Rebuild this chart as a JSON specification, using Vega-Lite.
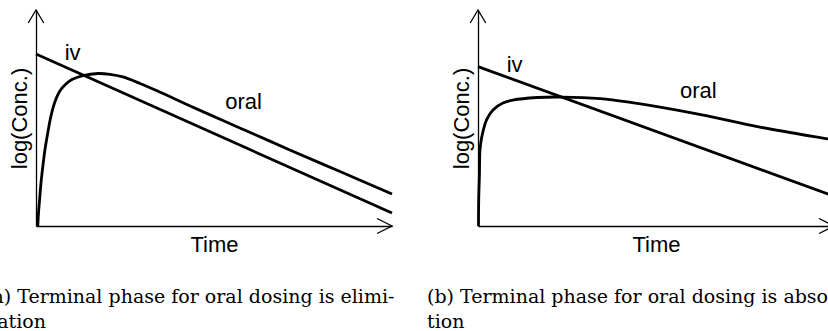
{
  "$schema": "https://vega.github.io/schema/vega-lite/v6.json",
  "autosize": {"type": "none"},
  "padding": {"left": 36, "top": 10, "right": 792, "bottom": 321},
  "background": "white",
  "bounds": "flush",
  "spacing": 86,
  "datasets": {
    "curvesA": [
      {"t": 0, "c": 7.96, "s": "iv"},
      {"t": 10, "c": 0.6, "s": "iv"},
      {"t": 0.05, "c": 0, "s": "oral"},
      {"t": 0.07, "c": 0.6, "s": "oral"},
      {"t": 0.1, "c": 1.2, "s": "oral"},
      {"t": 0.14, "c": 1.99, "s": "oral"},
      {"t": 0.19, "c": 2.73, "s": "oral"},
      {"t": 0.25, "c": 3.52, "s": "oral"},
      {"t": 0.33, "c": 4.31, "s": "oral"},
      {"t": 0.42, "c": 5.09, "s": "oral"},
      {"t": 0.53, "c": 5.74, "s": "oral"},
      {"t": 0.67, "c": 6.25, "s": "oral"},
      {"t": 0.84, "c": 6.57, "s": "oral"},
      {"t": 1.01, "c": 6.78, "s": "oral"},
      {"t": 1.32, "c": 6.96, "s": "oral"},
      {"t": 1.74, "c": 7.06, "s": "oral"},
      {"t": 2.08, "c": 7.02, "s": "oral"},
      {"t": 2.44, "c": 6.9, "s": "oral"},
      {"t": 2.92, "c": 6.6, "s": "oral"},
      {"t": 3.4, "c": 6.26, "s": "oral"},
      {"t": 4.33, "c": 5.56, "s": "oral"},
      {"t": 5.25, "c": 4.88, "s": "oral"},
      {"t": 6.21, "c": 4.19, "s": "oral"},
      {"t": 7.13, "c": 3.52, "s": "oral"},
      {"t": 8.54, "c": 2.52, "s": "oral"},
      {"t": 10, "c": 1.48, "s": "oral"}
    ],
    "curvesB": [
      {"t": 0, "c": 7.38, "s": "iv"},
      {"t": 10, "c": 1.38, "s": "iv"},
      {"t": 0.014, "c": 0, "s": "oral"},
      {"t": 0.02, "c": 1.2, "s": "oral"},
      {"t": 0.04, "c": 2.36, "s": "oral"},
      {"t": 0.056, "c": 3.52, "s": "oral"},
      {"t": 0.1, "c": 4.07, "s": "oral"},
      {"t": 0.15, "c": 4.44, "s": "oral"},
      {"t": 0.24, "c": 4.91, "s": "oral"},
      {"t": 0.42, "c": 5.37, "s": "oral"},
      {"t": 0.7, "c": 5.69, "s": "oral"},
      {"t": 0.98, "c": 5.83, "s": "oral"},
      {"t": 1.66, "c": 5.95, "s": "oral"},
      {"t": 2.36, "c": 5.97, "s": "oral"},
      {"t": 3.43, "c": 5.9, "s": "oral"},
      {"t": 4.19, "c": 5.75, "s": "oral"},
      {"t": 6.04, "c": 5.23, "s": "oral"},
      {"t": 7.92, "c": 4.58, "s": "oral"},
      {"t": 9.83, "c": 4.03, "s": "oral"},
      {"t": 10, "c": 3.98, "s": "oral"}
    ],
    "labelsA": [
      {"t": 1.03, "c": 7.69, "label": "iv"},
      {"t": 5.83, "c": 5.42, "label": "oral"}
    ],
    "labelsB": [
      {"t": 1.03, "c": 7.12, "label": "iv"},
      {"t": 6.19, "c": 5.93, "label": "oral"}
    ],
    "arrows": [
      {"t": 0, "c": 10, "dir": "up"},
      {"t": 10, "c": 0, "dir": "right"}
    ]
  },
  "hconcat": [
    {
      "width": 356,
      "height": 216,
      "title": {
        "text": ["(a) Terminal phase for oral dosing is elimi-", "\u00a0nation"],
        "orient": "bottom",
        "anchor": "start",
        "frame": "group",
        "dx": -51
      },
      "encoding": {
        "x": {"field": "t", "type": "quantitative", "scale": {"domain": [0, 10], "nice": false, "zero": false}, "axis": {"title": "Time"}},
        "y": {"field": "c", "type": "quantitative", "scale": {"domain": [0, 10], "nice": false, "zero": false}, "axis": {"title": "log(Conc.)"}}
      },
      "layer": [
        {
          "data": {"name": "curvesA"},
          "mark": {"type": "line", "interpolate": "catmull-rom", "strokeWidth": 2.8, "color": "black"},
          "encoding": {"detail": {"field": "s"}}
        },
        {
          "data": {"name": "labelsA"},
          "mark": {"type": "text", "font": "Liberation Sans", "fontSize": 22, "align": "center", "baseline": "alphabetic", "color": "black"},
          "encoding": {"text": {"field": "label"}}
        },
        {
          "data": {"name": "arrows"},
          "mark": {"type": "point", "filled": false, "strokeWidth": 1.3, "size": 676, "opacity": 1, "color": "black"},
          "encoding": {
            "shape": {"field": "dir", "type": "nominal", "scale": {"domain": ["up", "right"], "range": ["M-0.6,1L0,0L0.6,1", "M-1.15,-0.58L0,0L-1.15,0.58"]}, "legend": null}
          }
        }
      ]
    },
    {
      "width": 356,
      "height": 216,
      "title": {
        "text": ["(b) Terminal phase for oral dosing is absorp-", "\u00a0tion"],
        "orient": "bottom",
        "anchor": "start",
        "frame": "group",
        "dx": -51
      },
      "encoding": {
        "x": {"field": "t", "type": "quantitative", "scale": {"domain": [0, 10], "nice": false, "zero": false}, "axis": {"title": "Time"}},
        "y": {"field": "c", "type": "quantitative", "scale": {"domain": [0, 10], "nice": false, "zero": false}, "axis": {"title": "log(Conc.)"}}
      },
      "layer": [
        {
          "data": {"name": "curvesB"},
          "mark": {"type": "line", "interpolate": "catmull-rom", "strokeWidth": 2.8, "color": "black"},
          "encoding": {"detail": {"field": "s"}}
        },
        {
          "data": {"name": "labelsB"},
          "mark": {"type": "text", "font": "Liberation Sans", "fontSize": 22, "align": "center", "baseline": "alphabetic", "color": "black"},
          "encoding": {"text": {"field": "label"}}
        },
        {
          "data": {"name": "arrows"},
          "mark": {"type": "point", "filled": false, "strokeWidth": 1.3, "size": 676, "opacity": 1, "color": "black"},
          "encoding": {
            "shape": {"field": "dir", "type": "nominal", "scale": {"domain": ["up", "right"], "range": ["M-0.6,1L0,0L0.6,1", "M-1.15,-0.58L0,0L-1.15,0.58"]}, "legend": null}
          }
        }
      ]
    }
  ],
  "config": {
    "view": {"stroke": null},
    "axis": {
      "grid": false,
      "ticks": false,
      "labels": false,
      "domainColor": "black",
      "domainWidth": 1.3,
      "titleFont": "Liberation Sans",
      "titleFontSize": 22,
      "titleFontWeight": "normal",
      "titleColor": "black"
    },
    "axisX": {"titlePadding": 8},
    "axisY": {"titlePadding": 5},
    "title": {
      "font": "DejaVu Serif",
      "fontSize": 19,
      "fontWeight": "normal",
      "color": "black",
      "lineHeight": 25,
      "offset": 33
    }
  }
}
